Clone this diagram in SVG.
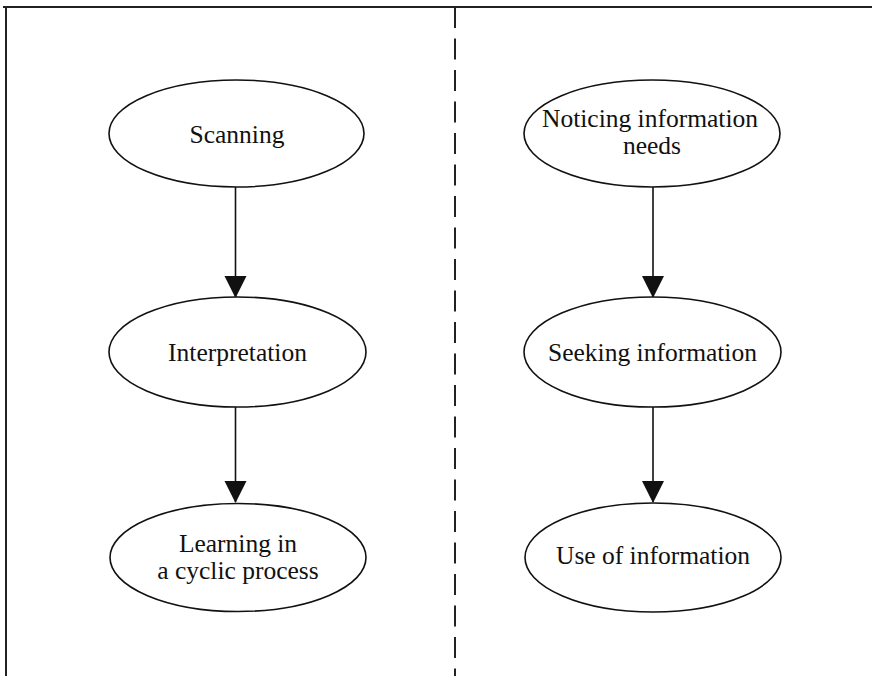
<svg xmlns="http://www.w3.org/2000/svg" width="872" height="676" viewBox="0 0 872 676">
  <style>
    .frame { stroke: #222; stroke-width: 2; fill: none; }
    .divider { stroke: #222; stroke-width: 2; fill: none; stroke-dasharray: 21 10.5; }
    .node ellipse { fill: #fff; stroke: #111; stroke-width: 1.6; }
    .node text { font-family: "Liberation Serif", "Times New Roman", serif; font-size: 25.5px; fill: #111; text-anchor: middle; }
    .edge { stroke: #111; stroke-width: 1.6; fill: none; }
  </style>
  <defs>
    <marker id="arrow" markerUnits="userSpaceOnUse" markerWidth="22" markerHeight="23" refX="21" refY="11" orient="auto">
      <path d="M0,0 L22,11 L0,22 Z" fill="#111"/>
    </marker>
  </defs>
  <rect width="872" height="676" fill="#fff"/>

  <!-- outer frame: top and left edges, dashed divider -->
  <path class="frame" d="M3,7 H872 M6,7 V676"/>
  <path class="divider" d="M455,7 V676"/>

  <!-- connectors -->
  <g id="connectors">
    <path class="edge" d="M235.5,187 V297" marker-end="url(#arrow)"/>
    <path class="edge" d="M235.5,407 V502" marker-end="url(#arrow)"/>
    <path class="edge" d="M653,187 V297" marker-end="url(#arrow)"/>
    <path class="edge" d="M653,407 V502" marker-end="url(#arrow)"/>
  </g>

  <!-- left column -->
  <g id="scanning" class="node">
    <ellipse cx="236.5" cy="133.5" rx="127.5" ry="53.5"/>
    <text x="237" y="143">Scanning</text>
  </g>
  <g id="interpretation" class="node">
    <ellipse cx="237.5" cy="352" rx="128.5" ry="55"/>
    <text x="237.5" y="361">Interpretation</text>
  </g>
  <g id="learning" class="node">
    <ellipse cx="238" cy="557.5" rx="128" ry="54"/>
    <text x="238" y="552">Learning in</text>
    <text x="238" y="579">a cyclic process</text>
  </g>

  <!-- right column -->
  <g id="noticing" class="node">
    <ellipse cx="652" cy="133.5" rx="128" ry="53.5"/>
    <text x="650" y="127">Noticing information</text>
    <text x="652" y="154">needs</text>
  </g>
  <g id="seeking" class="node">
    <ellipse cx="652.5" cy="352" rx="128.5" ry="55"/>
    <text x="652.5" y="361">Seeking information</text>
  </g>
  <g id="use" class="node">
    <ellipse cx="653" cy="557.5" rx="128" ry="54.5"/>
    <text x="653" y="564">Use of information</text>
  </g>
</svg>
